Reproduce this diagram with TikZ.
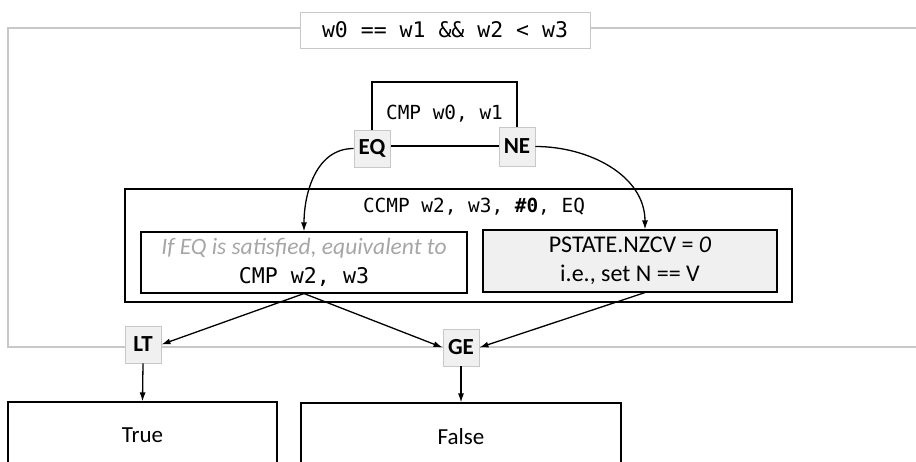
\documentclass[tikz,border=0pt]{standalone}
\usepackage{fontspec}
\setmainfont{Carlito}
\setmonofont{DejaVu Sans Mono}
\usetikzlibrary{arrows.meta}
\definecolor{framegray}{HTML}{C8C8C8}
\definecolor{tagfill}{HTML}{F0F0F0}
\definecolor{notegray}{HTML}{A6A6A6}

\begin{document}
\begin{tikzpicture}[x=1pt, y=-1pt, >={Latex[length=9pt,width=6pt]}]
  \tikzset{
    box/.style={rectangle, draw=black, line width=1.1pt, align=center,
      inner sep=0pt, minimum width=#1},
    tag/.style={rectangle, draw=framegray, fill=tagfill, line width=0.9pt,
      font=\fontsize{23}{24}\selectfont\bfseries, inner sep=0pt,
      minimum width=36pt, minimum height=37pt},
    code/.style={font=\fontsize{19.4}{24}\selectfont\ttfamily},
    flow/.style={->, line width=1.3pt},
  }
  \useasboundingbox (0,0) rectangle (916,461);
  \clip (0,0) rectangle (916,461);

  % grey frame behind the condition
  \draw[framegray, line width=1.1pt] (8,28) rectangle (940,347);
  \node[rectangle, draw=framegray, fill=white, line width=0.9pt, minimum width=290pt,
        minimum height=36pt, font=\fontsize{21.5}{24}\selectfont\ttfamily]
        (cond) at (445,30) {w0 == w1 \&\& w2 < w3};

  \node[box=145pt, minimum height=64pt, code] (cmp) at (444.5,114) {CMP w0, w1};
  \node[tag] (eq) at (372,148.5) {EQ};
  \node[tag, minimum height=39pt] (ne) at (517,146.5) {NE};

  \node[box=667pt, minimum height=113pt] (ccmp) at (458.5,245.5) {};
  \node[code] (ccmptxt) at (474,207) {CCMP w2, w3, \textbf{\#0}, EQ};
  \node[box=326pt, minimum height=61pt, font=\fontsize{23.5}{29}\selectfont]
        (eqcase) at (304,262.5)
        {\textcolor{notegray}{\itshape If EQ is satisfied, equivalent to}\\
         \fontsize{21.6}{29}\selectfont\ttfamily CMP w2, w3};
  \node[box=294pt, minimum height=62pt, fill=tagfill, font=\fontsize{24}{29}\selectfont]
        (necase) at (630,261) {PSTATE.NZCV = \textit{0}\\i.e., set N == V};

  \node[tag] (lt) at (143,344.5) {LT};
  \node[tag] (ge) at (461,347.5) {GE};

  \node[box=269pt, minimum height=66pt, font=\fontsize{23}{26}\selectfont] (true) at (142.5,435) {True};
  \node[box=320pt, minimum height=68pt, font=\fontsize{23}{26}\selectfont] (false) at (461,437) {False};

  \draw[flow] (eq.west) to[out=180, in=90] (eqcase.north);
  \draw[flow] (ne.east) to[out=0, in=90] ([xshift=15pt]necase.north);
  \draw[flow] (eqcase.south) -- (lt.east);
  \draw[flow] (eqcase.south) -- (ge.west);
  \draw[flow] ([xshift=15pt]necase.south) -- (ge.east);
  \draw[flow] (lt.south) -- (true.north);
  \draw[flow] (ge.south) -- (false.north);
\end{tikzpicture}
\end{document}
